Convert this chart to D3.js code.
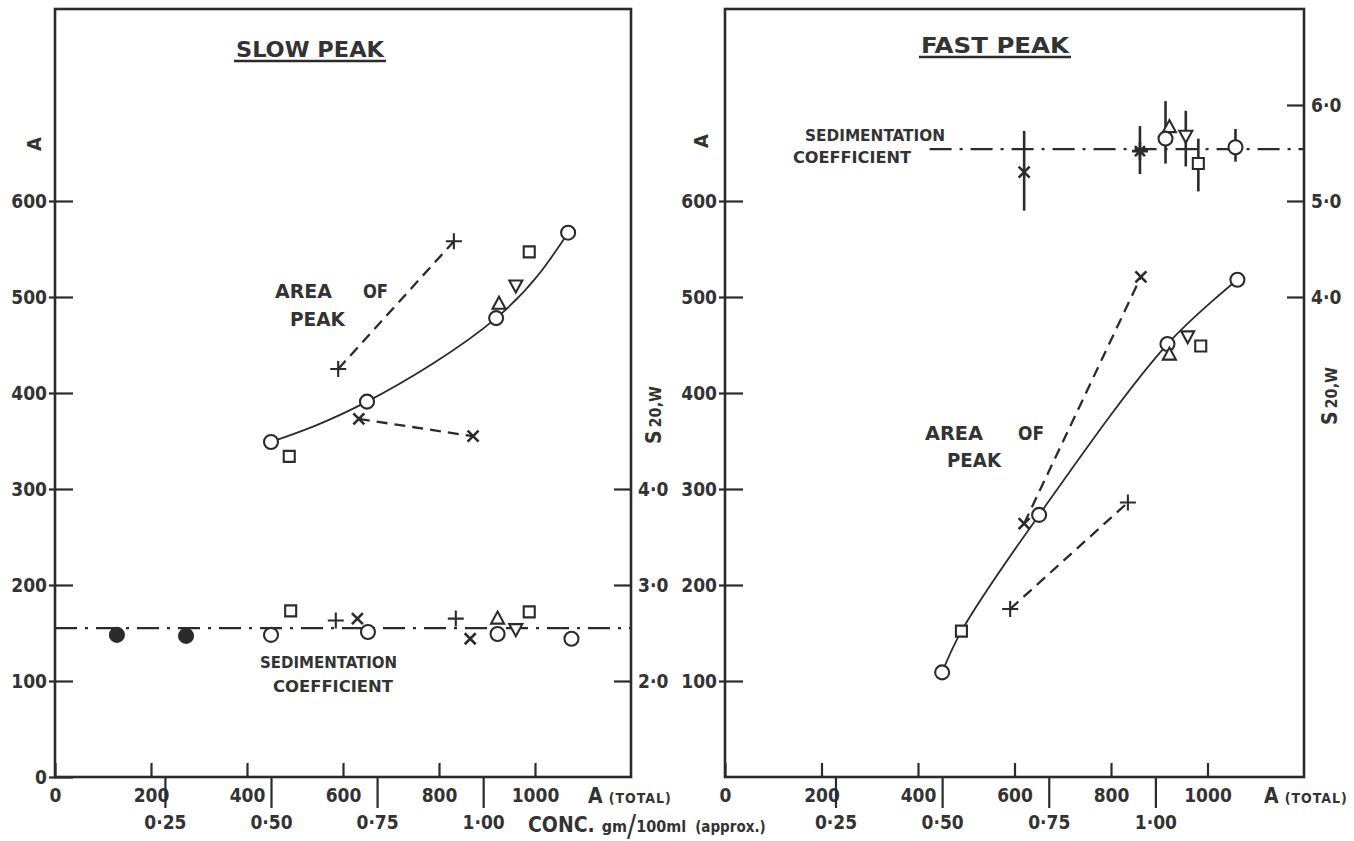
<!DOCTYPE html>
<html>
<head>
<meta charset="utf-8">
<script src="https://cdn.jsdelivr.net/npm/d3@7"></script>
<style>
body { margin: 0; background: #fff; }
svg text { font-family: "DejaVu Sans Condensed", "DejaVu Sans", sans-serif; font-weight: bold; fill: #333; }
.tick text { font-size: 19px; }
</style>
</head>
<body>
<div class="canvas"></div>
<script>
// tick values
const aTotalTicks = [0, 200, 400, 600, 800, 1000]
const concTicks = [0.25, 0.50, 0.75, 1.00]
const concToA = [8, 892]          // A(total) at conc 0 and 1 gm/100ml
const slowYTicks = [0, 100, 200, 300, 400, 500, 600]
const fastYTicks = [100, 200, 300, 400, 500, 600]
const slowSTicks = [2, 3, 4]
const fastSTicks = [4, 5, 6]

// slow peak - area of peak  [A(total), A]
const slowAreaCircle = [[450, 349], [650, 391], [919, 478], [1069, 567]]
const slowAreaSquare = [[488, 334], [988, 547]]
const slowAreaTriUp = [[925, 493]]
const slowAreaTriDown = [[960, 512]]
const slowAreaPlus = [[590, 425], [831, 558]]
const slowAreaCross = [[633, 373], [871, 355]]

// slow peak - sedimentation coefficient [A(total), S20,w]
const slowSedMean = 2.55
const slowSedFilled = [[129, 2.48], [273, 2.47]]
const slowSedCircle = [[450, 2.48], [652, 2.51], [922, 2.49], [1076, 2.44]]
const slowSedSquare = [[491, 2.73], [988, 2.72]]
const slowSedPlus = [[585, 2.63], [835, 2.65]]
const slowSedCross = [[630, 2.65], [865, 2.44]]
const slowSedTriUp = [[922, 2.65]]
const slowSedTriDown = [[960, 2.54]]

// fast peak - area of peak
const fastAreaFit = [[450, 109], [490, 152], [651, 273], [917, 451], [1062, 518]]
const fastAreaCircle = [[450, 109], [651, 273], [917, 451], [1062, 518]]
const fastAreaSquare = [[490, 152], [986, 449]]
const fastAreaTriUp = [[921, 440]]
const fastAreaTriDown = [[959, 459]]
const fastAreaCross = [[620, 264], [862, 521]]
const fastAreaPlus = [[591, 175], [835, 286]]

// fast peak - sedimentation coefficient [A(total), S20,w, low, high]
const fastSedMean = 5.54
const fastSedStart = 424
const fastSedCross = [[620, 5.30, 4.90, 5.73]]
const fastSedStar = [[860, 5.52, 5.28, 5.78]]
const fastSedTriUp = [[921, 5.77, 5.77, 5.77]]
const fastSedCircle = [[913, 5.65, 5.39, 6.04], [1058, 5.56, 5.41, 5.75]]
const fastSedTriDown = [[955, 5.68, 5.36, 5.94]]
const fastSedSquare = [[981, 5.39, 5.10, 5.65]]

const ink = '#2b2b2b'
const dot = d => d.replace('.', '·')

const shapes = {
    circle: 'M7,0A7,7 0 1,1 -7,0A7,7 0 1,1 7,0Z',
    square: 'M-5.5,-5.5h11v11h-11Z',
    triUp: 'M0,-7L6.5,5L-6.5,5Z',
    triDown: 'M0,7L6.5,-5L-6.5,-5Z',
    plus: 'M-8,0H8M0,-8V8',
    cross: 'M-5.5,-5.5L5.5,5.5M5.5,-5.5L-5.5,5.5',
    star: 'M-8,0H8M0,-9V9M-5,-5L5,5M5,-5L-5,5'
}

const canvas = d3.select('.canvas')
const svg = canvas.append('svg')
    .attr('width', 1354)
    .attr('height', 841)

const y = d3.scaleLinear().domain([0, 800]).range([777, 9])

function text(g, txt, x0, y0, size, len) {
    const t = g.append('text')
        .attr('x', x0).attr('y', y0)
        .attr('font-size', size)
        .text(txt)
    if (len) t.attr('textLength', len).attr('lengthAdjust', 'spacingAndGlyphs')
    return t
}

function drawPanel(p) {
    const x = d3.scaleLinear().domain([0, 1200]).range([p.left, p.right])
    const s = d3.scaleLinear().domain(p.sDomain).range([777, 9])
    const conc = d3.scaleLinear().domain([0, 1]).range([x(concToA[0]), x(concToA[1])])
    const g = svg.append('g')

    // axes
    g.append('g').attr('transform', `translate(${p.left - 6},0)`)
        .call(d3.axisRight(y).tickValues(p.yTicks).tickSize(24).tickFormat(''))
    g.append('g').attr('transform', `translate(${p.left},0)`)
        .call(d3.axisLeft(y).tickValues(p.yTicks).tickSize(0).tickPadding(8).tickFormat(d3.format('d')))
    g.append('g').attr('transform', 'translate(0,777)')
        .call(d3.axisBottom(x).tickValues(aTotalTicks).tickSizeInner(-14).tickSizeOuter(0).tickPadding(12)
            .tickFormat(d3.format('d')))
    g.append('g').attr('transform', 'translate(0,777)')
        .call(d3.axisBottom(conc).tickValues(concTicks).tickSize(31).tickPadding(8)
            .tickFormat(d => dot(d3.format('.2f')(d))))
    g.append('g').attr('transform', `translate(${p.right},0)`)
        .call(d3.axisRight(s).tickValues(p.sTicks).tickSizeInner(-17).tickSizeOuter(0).tickPadding(7)
            .tickFormat(d => dot(d3.format('.1f')(d))))
    g.selectAll('.domain').remove()
    g.selectAll('.tick line').attr('stroke', ink).attr('stroke-width', 2.2)

    // frame
    g.append('rect')
        .attr('x', p.left).attr('y', 9)
        .attr('width', p.right - p.left).attr('height', 768)
        .attr('fill', 'none').attr('stroke', ink).attr('stroke-width', 2.6)

    // sedimentation coefficient mean line
    g.append('line')
        .attr('x1', x(p.sedStart)).attr('x2', x(1200))
        .attr('y1', s(p.sedMean)).attr('y2', s(p.sedMean))
        .attr('stroke', ink).attr('stroke-width', 2.2)
        .attr('stroke-dasharray', '22,8,3,8')

    // fitted solid curve
    g.append('path')
        .attr('d', d3.line().x(d => x(d[0])).y(d => y(d[1])).curve(p.curve)(p.fit))
        .attr('fill', 'none').attr('stroke', ink).attr('stroke-width', 1.8)

    // dashed lines
    p.dashed.forEach(pts => {
        g.append('path')
            .attr('d', d3.line().x(d => x(d[0])).y(d => y(d[1]))(pts))
            .attr('fill', 'none').attr('stroke', ink).attr('stroke-width', 2.3)
            .attr('stroke-dasharray', '11,7')
    })

    // error bars
    p.errors.forEach(set => {
        g.selectAll(null).data(set).join('line')
            .attr('x1', d => x(d[0])).attr('x2', d => x(d[0]))
            .attr('y1', d => s(d[2])).attr('y2', d => s(d[3]))
            .attr('stroke', ink).attr('stroke-width', 2.6)
    })

    // markers
    p.markers.forEach(m => {
        const yy = m.sed ? s : y
        const open = ['plus', 'cross', 'star'].includes(m.shape)
        g.selectAll(null).data(m.data).join('path')
            .attr('d', shapes[m.shape])
            .attr('transform', d => `translate(${x(d[0])},${yy(d[1])})`)
            .attr('fill', m.filled ? ink : (open ? 'none' : '#fff'))
            .attr('stroke', ink)
            .attr('stroke-width', m.shape === 'cross' || m.shape === 'star' ? 2.6 : 2.1)
    })

    // title
    text(g, p.title, p.titleX, p.titleY, 21, p.titleLen)
        .attr('text-anchor', 'middle')
    g.append('line')
        .attr('x1', p.titleX - p.titleLen / 2 - 2).attr('x2', p.titleX + p.titleLen / 2 + 2)
        .attr('y1', p.titleY + 4).attr('y2', p.titleY + 4)
        .attr('stroke', ink).attr('stroke-width', 2.4)

    // axis names
    g.append('text')
        .attr('transform', `translate(${p.aLabel[0]},${p.aLabel[1]}) rotate(-90)`)
        .attr('text-anchor', 'middle').attr('font-size', 20)
        .text('A')
    const sl = g.append('text')
        .attr('transform', `translate(${p.sLabel[0]},${p.sLabel[1]}) rotate(-90)`)
        .attr('text-anchor', 'middle').attr('font-weight', 'normal')
    sl.append('tspan').attr('font-size', 21).text('S')
    sl.append('tspan').attr('font-size', 16).attr('dx', 3).text('20,W')

    const at = g.append('text').attr('x', p.totalX).attr('y', 803)
    at.append('tspan').attr('font-size', 21).text('A')
    at.append('tspan').attr('font-size', 14).attr('dx', 6).attr('letter-spacing', 1).text('(TOTAL)')

    // annotations
    p.notes.forEach(n => text(g, n[0], n[1], n[2], n[3], n[4]))
}

drawPanel({
    left: 55, right: 631,
    sDomain: [1, 9], yTicks: slowYTicks, sTicks: slowSTicks,
    sedMean: slowSedMean, sedStart: 0,
    fit: slowAreaCircle, curve: d3.curveNatural,
    dashed: [slowAreaPlus, slowAreaCross],
    errors: [],
    markers: [
        { shape: 'circle', data: slowAreaCircle },
        { shape: 'square', data: slowAreaSquare },
        { shape: 'triUp', data: slowAreaTriUp },
        { shape: 'triDown', data: slowAreaTriDown },
        { shape: 'plus', data: slowAreaPlus },
        { shape: 'cross', data: slowAreaCross },
        { shape: 'circle', data: slowSedFilled, sed: true, filled: true },
        { shape: 'circle', data: slowSedCircle, sed: true },
        { shape: 'square', data: slowSedSquare, sed: true },
        { shape: 'plus', data: slowSedPlus, sed: true },
        { shape: 'cross', data: slowSedCross, sed: true },
        { shape: 'triUp', data: slowSedTriUp, sed: true },
        { shape: 'triDown', data: slowSedTriDown, sed: true }
    ],
    title: 'SLOW  PEAK', titleX: 310, titleY: 57, titleLen: 148,
    aLabel: [41, 144], sLabel: [661, 415], totalX: 588,
    notes: [
        ['AREA', 275, 298, 20, 57], ['OF', 363, 298, 20, 25], ['PEAK', 290, 326, 20, 55],
        ['SEDIMENTATION', 260, 668, 16, 137], ['COEFFICIENT', 273, 692, 16, 120]
    ]
})

drawPanel({
    left: 725, right: 1304,
    sDomain: [-1, 7], yTicks: fastYTicks, sTicks: fastSTicks,
    sedMean: fastSedMean, sedStart: fastSedStart,
    fit: fastAreaFit, curve: d3.curveCatmullRom,
    dashed: [fastAreaCross, fastAreaPlus],
    errors: [fastSedCross, fastSedStar, fastSedCircle, fastSedTriDown, fastSedSquare],
    markers: [
        { shape: 'circle', data: fastAreaCircle },
        { shape: 'square', data: fastAreaSquare },
        { shape: 'triUp', data: fastAreaTriUp },
        { shape: 'triDown', data: fastAreaTriDown },
        { shape: 'cross', data: fastAreaCross },
        { shape: 'plus', data: fastAreaPlus },
        { shape: 'cross', data: fastSedCross, sed: true },
        { shape: 'star', data: fastSedStar, sed: true },
        { shape: 'triUp', data: fastSedTriUp, sed: true },
        { shape: 'circle', data: fastSedCircle, sed: true },
        { shape: 'triDown', data: fastSedTriDown, sed: true },
        { shape: 'square', data: fastSedSquare, sed: true }
    ],
    title: 'FAST  PEAK', titleX: 995, titleY: 53, titleLen: 148,
    aLabel: [708, 141], sLabel: [1337, 396], totalX: 1264,
    notes: [
        ['AREA', 925, 440, 20, 58], ['OF', 1018, 440, 20, 26], ['PEAK', 947, 467, 20, 54],
        ['SEDIMENTATION', 805, 141, 16, 140], ['COEFFICIENT', 793, 163, 16, 118]
    ]
})

// concentration axis title
const conc = svg.append('text').attr('x', 528).attr('y', 832)
conc.append('tspan').attr('font-size', 21).text('CONC.')
conc.append('tspan').attr('font-size', 16).attr('dx', 7).text('gm')
conc.append('tspan').attr('font-size', 30).attr('font-weight', 'normal').attr('dy', 4).text('/')
conc.append('tspan').attr('font-size', 16).attr('dy', -4).text('100ml')
conc.append('tspan').attr('font-size', 15).attr('dx', 9).text('(approx.)')
</script>
</body>
</html>
